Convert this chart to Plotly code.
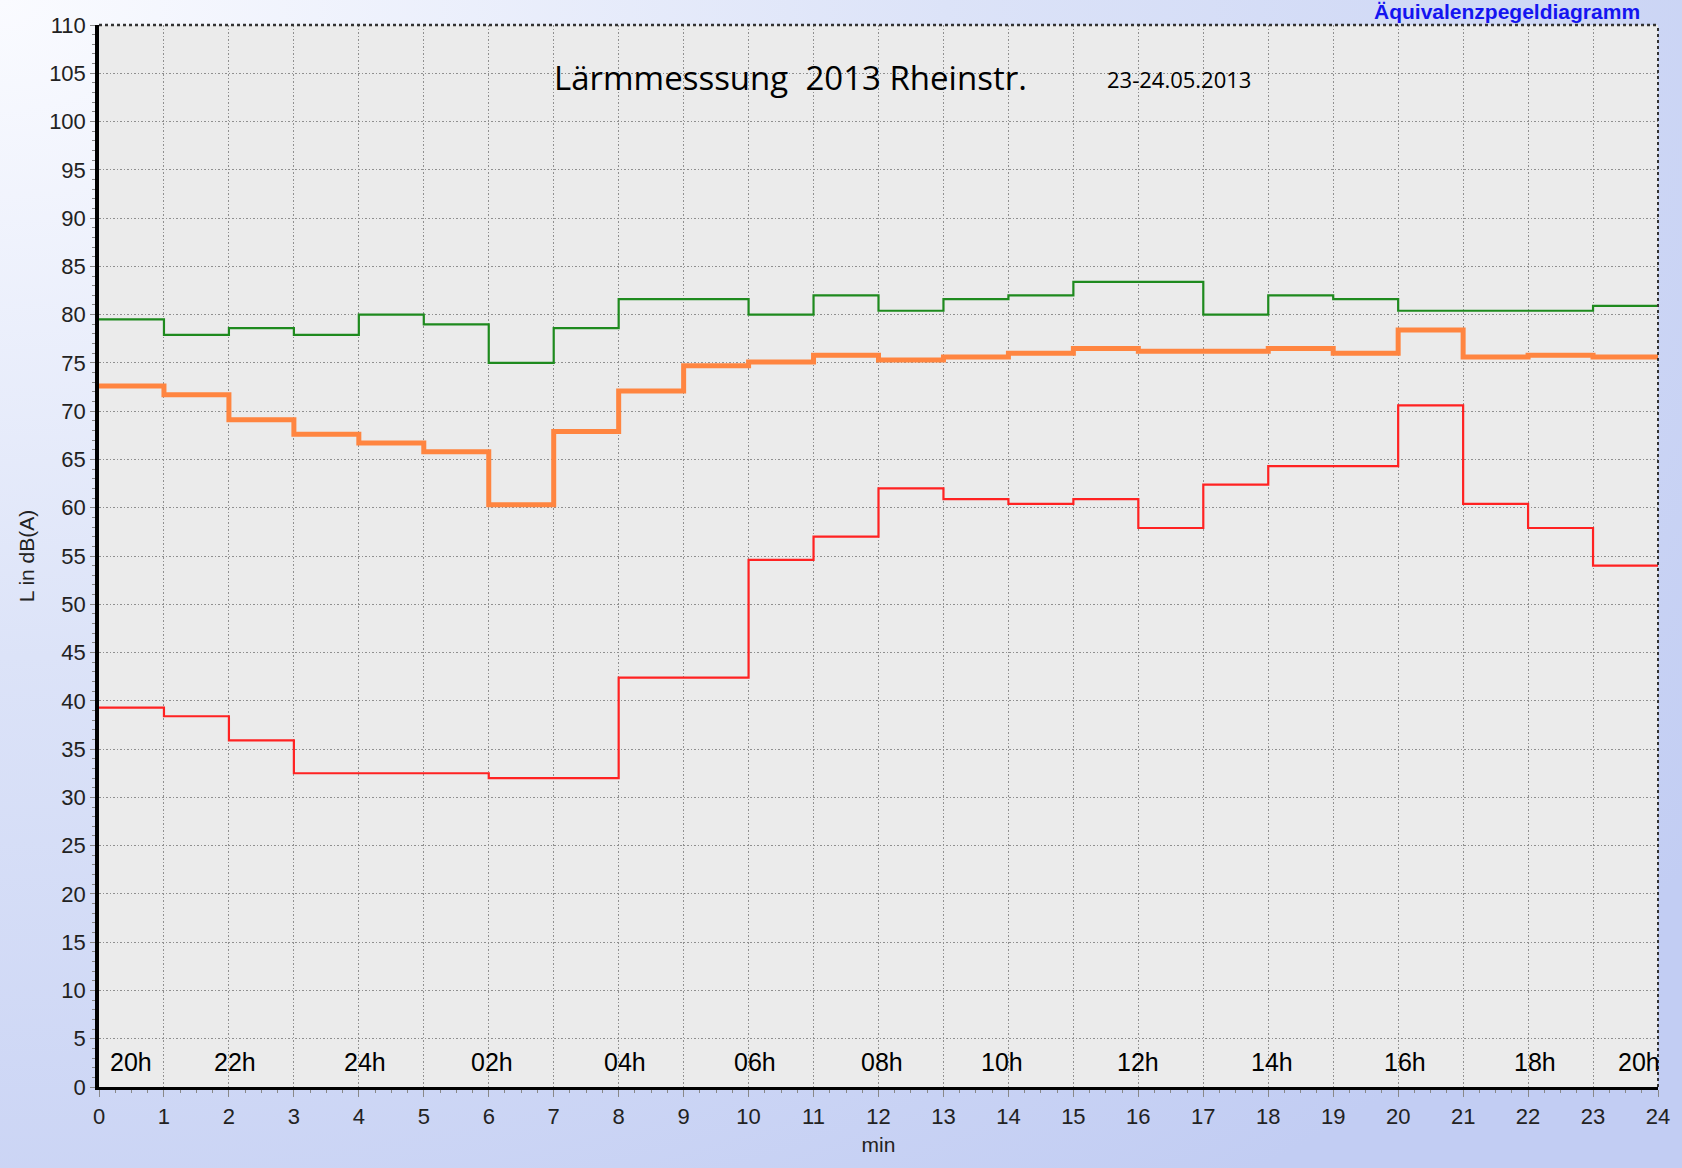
import base64
import plotly.graph_objects as go

# ---- data ----
minutes = list(range(25))  # interval boundaries 0..24 min
green = [79.5, 77.9, 78.6, 77.9, 80.0, 79.0, 75.0, 78.6, 81.6, 81.6, 80.0, 82.0,
         80.4, 81.6, 82.0, 83.4, 83.4, 80.0, 82.0, 81.6, 80.4, 80.4, 80.4, 80.9]
orange = [72.6, 71.7, 69.1, 67.6, 66.7, 65.8, 60.3, 67.9, 72.1, 74.7, 75.1, 75.8,
          75.3, 75.6, 76.0, 76.5, 76.2, 76.2, 76.5, 76.0, 78.4, 75.6, 75.8, 75.6]
red = [39.3, 38.4, 35.9, 32.5, 32.5, 32.5, 32.0, 32.0, 42.4, 42.4, 54.6, 57.0,
       62.0, 60.9, 60.4, 60.9, 57.9, 62.4, 64.3, 64.3, 70.6, 60.4, 57.9, 54.0]
hour_labels = ["20h", "22h", "24h", "02h", "04h", "06h", "08h", "10h", "12h", "14h", "16h", "18h", "20h"]
hour_pos = [0.5, 2.1, 4.1, 6.05, 8.1, 10.1, 12.05, 13.9, 16.0, 18.05, 20.1, 22.1, 23.7]

W, H = 1682, 1168
ML, MR, MT, MB = 99, 24, 25, 81
PW, PH = W - ML - MR, H - MT - MB

fig = go.Figure()
for vals, col, w in [(green, "#1E8A1E", 2.2), (orange, "#FF8540", 5), (red, "#FF2222", 2.2)]:
    fig.add_trace(go.Scatter(x=minutes, y=vals + [vals[-1]], mode="lines",
                             line=dict(color=col, width=w, shape="hv"),
                             showlegend=False, hoverinfo="skip"))

svg = f'''<svg xmlns="http://www.w3.org/2000/svg" width="{W}" height="{H}" preserveAspectRatio="none">
<defs><radialGradient id="g" cx="0" cy="0" r="1.25" gradientUnits="objectBoundingBox">
<stop offset="0" stop-color="#FAFBFF"/><stop offset="0.45" stop-color="#DCE3F8"/>
<stop offset="1" stop-color="#C2CDF3"/></radialGradient></defs>
<rect width="{W}" height="{H}" fill="url(#g)"/></svg>'''
src = "data:image/svg+xml;base64," + base64.b64encode(svg.encode()).decode()

fig.add_layout_image(dict(source=src, xref="paper", yref="paper",
                          x=-ML / PW, y=1 + MT / PH, sizex=W / PW, sizey=H / PH,
                          xanchor="left", yanchor="top", sizing="stretch", layer="below"))

shapes = [
    dict(type="rect", xref="paper", yref="paper", x0=0, x1=1, y0=0, y1=1,
         fillcolor="#EBEBEB", line=dict(width=0), layer="below"),
    dict(type="line", xref="paper", yref="paper", x0=0, x1=1, y0=1, y1=1,
         line=dict(color="#333333", width=2.5, dash="dot"), layer="above"),
    dict(type="line", xref="paper", yref="paper", x0=1, x1=1, y0=0, y1=1,
         line=dict(color="#333333", width=2, dash="dot"), layer="above"),
]


def px2paper(px, py):
    return (px - ML) / PW, 1 - (py - MT) / PH


annotations = []
for text, px, py, fam, size, col, xa in [
    ("Lärmmesssung  2013 Rheinstr.", 790, 78, "Open Sans, Noto Sans", 33, "#000", "center"),
    ("23-24.05.2013", 1179, 79, "Open Sans, Noto Sans", 22, "#000", "center"),
    ("<b>Äquivalenzpegeldiagramm</b>", 1642, 11, "Liberation Sans, Arial", 21, "#1414F0", "right"),
]:
    x, y = px2paper(px, py)
    annotations.append(dict(text=text, x=x, y=y, xref="paper", yref="paper",
                            xanchor=xa, yanchor="middle", showarrow=False,
                            font=dict(family=fam, size=size, color=col)))

for lab, pos in zip(hour_labels, hour_pos):
    annotations.append(dict(text=lab, x=pos, y=2.6, xref="x", yref="y", showarrow=False,
                            xanchor="center", yanchor="middle",
                            font=dict(family="Liberation Sans, Arial", size=25, color="#000")))

tickfont = dict(family="Liberation Sans, Arial", size=22, color="#222")
titlefont = dict(family="Liberation Sans, Arial", size=21, color="#222")
fig.update_layout(
    width=W, height=H,
    margin=dict(l=ML, r=MR, t=MT, b=MB),
    paper_bgcolor="#D0D9F6", plot_bgcolor="rgba(0,0,0,0)",
    shapes=shapes, annotations=annotations,
    xaxis=dict(range=[0, 24], dtick=1, tick0=0, showgrid=True, gridcolor="#8f8f8f",
               griddash="1.5px,2px", gridwidth=1.2, zeroline=False, showline=True,
               linecolor="#000", linewidth=3, ticks="outside", ticklen=7, tickcolor="#888",
               minor=dict(dtick=0.25, ticks="outside", ticklen=3, tickcolor="#888"),
               tickfont=tickfont, ticklabelstandoff=1,
               title=dict(text="min", font=titlefont, standoff=9)),
    yaxis=dict(range=[0, 110], dtick=5, tick0=0, showgrid=True, gridcolor="#8f8f8f",
               griddash="1.5px,2px", gridwidth=1.2, zeroline=False, showline=True,
               linecolor="#000", linewidth=3.5, ticks="outside", ticklen=5, tickcolor="#888",
               minor=dict(dtick=1, ticks="outside", ticklen=3, tickcolor="#888"),
               tickfont=tickfont, ticklabelstandoff=0,
               title=dict(text="L in dB(A)", font=titlefont, standoff=10)),
)
fig.write_html("out.html", config={"displayModeBar": False},
               post_script="document.body.style.margin='0';document.body.style.overflow='hidden';")
